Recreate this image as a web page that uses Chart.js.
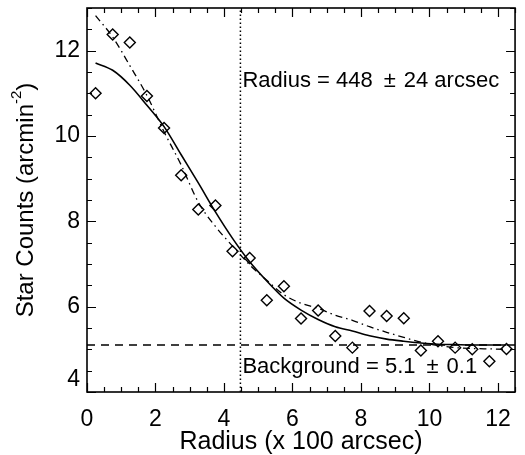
<!DOCTYPE html>
<html>
<head>
<meta charset="utf-8">
<title>Radial star count profile</title>
<script src="https://cdn.jsdelivr.net/npm/chart.js@4.4.1/dist/chart.umd.min.js"></script>
<style>
  html, body { margin: 0; padding: 0; background: #fff; }
  canvas { display: block; }
</style>
</head>
<body>
<canvas id="profile" width="525" height="455"></canvas>
<script>
// radial bins (x 100 arcsec) and measured surface density of stars
const radius = [0.25, 0.75, 1.25, 1.75, 2.25, 2.75, 3.25, 3.75, 4.25, 4.75, 5.25, 5.75, 6.25,
                6.75, 7.25, 7.75, 8.25, 8.75, 9.25, 9.75, 10.25, 10.75, 11.25, 11.75, 12.25];
const counts = [11.0, 12.38, 12.19, 10.94, 10.19, 9.08, 8.28, 8.37, 7.30, 7.14, 6.15, 6.48, 5.72,
                5.91, 5.31, 5.04, 5.90, 5.78, 5.73, 4.97, 5.19, 5.04, 5.00, 4.72, 5.01];

// fitted profiles evaluated at the same radii
const fitSolid = [11.71, 11.54, 11.19, 10.72, 10.22, 9.56, 8.90, 8.22, 7.60, 7.05, 6.60, 6.20, 5.92,
                  5.70, 5.53, 5.43, 5.32, 5.24, 5.19, 5.15, 5.12, 5.11, 5.10, 5.10, 5.10];
const fitDashDot = [12.82, 12.32, 11.65, 10.95, 10.10, 9.32, 8.45, 7.88, 7.42, 6.98, 6.62, 6.28, 6.08,
                    5.96, 5.80, 5.68, 5.53, 5.40, 5.28, 5.17, 5.09, 5.04, 5.02, 5.01, 5.00];

// fitted core radius and sky background
const coreRadius = 4.48;
const background = 5.1;

const xRange = [0, 12.5];
const yRange = [4, 13];
const xTickLabels = [0, 2, 4, 6, 8, 10, 12];
const yTickLabels = [4, 6, 8, 10, 12];
const minorStep = 0.5;

const radiusText = ['Radius = 448', '\u00b1', '24 arcsec'];
const backgroundText = ['Background = 5.1', '\u00b1', '0.1'];

const FONT = '"Liberation Sans", Arial, Helvetica, sans-serif';

function pairs(xs, ys) {
  return xs.map((x, i) => ({ x: x, y: ys[i] }));
}

// box round the plot with inward ticks on all four sides, y labels and titles
const framePlugin = {
  id: 'frame',
  afterDraw(chart) {
    const ctx = chart.ctx;
    const a = chart.chartArea;
    const xs = chart.scales.x;
    const ys = chart.scales.y;

    ctx.save();
    ctx.strokeStyle = '#000';
    ctx.lineWidth = 1.6;
    ctx.strokeRect(a.left, a.top, a.right - a.left, a.bottom - a.top);

    ctx.lineWidth = 1.2;
    ctx.beginPath();
    for (let v = xRange[0]; v <= xRange[1] + 1e-9; v += minorStep) {
      const px = Math.round(xs.getPixelForValue(v)) + 0.5;
      const len = xTickLabels.includes(v) ? 9 : 5;
      ctx.moveTo(px, a.bottom); ctx.lineTo(px, a.bottom - len);
      ctx.moveTo(px, a.top); ctx.lineTo(px, a.top + len);
    }
    for (let v = yRange[0]; v <= yRange[1] + 1e-9; v += minorStep) {
      const py = Math.round(ys.getPixelForValue(v)) + 0.5;
      const len = yTickLabels.includes(v) ? 9 : 5;
      ctx.moveTo(a.left, py); ctx.lineTo(a.left + len, py);
      ctx.moveTo(a.right, py); ctx.lineTo(a.right - len, py);
    }
    ctx.stroke();

    ctx.fillStyle = '#000';
    ctx.font = '23px ' + FONT;
    ctx.textAlign = 'right';
    ctx.textBaseline = 'middle';
    yTickLabels.forEach(v => {
      const py = Math.min(ys.getPixelForValue(v), a.bottom - 12);
      ctx.fillText(String(v), a.left - 7, py);
    });

    // x title
    ctx.font = '25px ' + FONT;
    ctx.textAlign = 'center';
    ctx.fillText('Radius (x 100 arcsec)', (a.left + a.right) / 2, 442);

    // y title with superscript exponent
    const main = 'Star Counts (arcmin';
    const sup = '-2';
    const tail = ')';
    ctx.font = '24px ' + FONT;
    const wMain = ctx.measureText(main).width;
    const wTail = ctx.measureText(tail).width;
    ctx.font = '15px ' + FONT;
    const wSup = ctx.measureText(sup).width;
    const total = wMain + wSup + wTail;
    ctx.translate(26, (a.top + a.bottom) / 2);
    ctx.rotate(-Math.PI / 2);
    ctx.textAlign = 'left';
    let cx = -total / 2;
    ctx.font = '24px ' + FONT;
    ctx.fillText(main, cx, 0);
    cx += wMain;
    ctx.font = '15px ' + FONT;
    ctx.fillText(sup, cx, -9);
    cx += wSup;
    ctx.font = '24px ' + FONT;
    ctx.fillText(tail, cx, 0);
    ctx.restore();

    // fit annotations, placed just right of the core radius line
    ctx.save();
    ctx.fillStyle = '#000';
    ctx.font = '22px ' + FONT;
    ctx.textBaseline = 'middle';
    ctx.textAlign = 'left';
    const left = xs.getPixelForValue(coreRadius) + 2;
    const drawParts = (parts, y) => {
      let px = left;
      ctx.fillText(parts[0], px, y);
      px += ctx.measureText(parts[0]).width + 11;
      ctx.fillText(parts[1], px, y);
      px += ctx.measureText(parts[1]).width + 8;
      ctx.fillText(parts[2], px, y);
    };
    drawParts(radiusText, 81);
    drawParts(backgroundText, 367);
    ctx.restore();
  }
};

const ctx = document.getElementById('profile');

new Chart(ctx, {
  type: 'scatter',
  data: {
    datasets: [
      {
        label: 'counts',
        data: pairs(radius, counts),
        showLine: false,
        pointStyle: 'rectRot',
        pointRadius: 5.5,
        pointBorderWidth: 1.4,
        pointBorderColor: '#000',
        pointBackgroundColor: 'rgba(0,0,0,0)',
        order: 0
      },
      {
        label: 'fit',
        data: pairs(radius, fitSolid),
        showLine: true,
        borderColor: '#000',
        borderWidth: 1.6,
        pointRadius: 0,
        cubicInterpolationMode: 'monotone',
        order: 1
      },
      {
        label: 'fit 2',
        data: pairs(radius, fitDashDot),
        showLine: true,
        borderColor: '#000',
        borderWidth: 1.3,
        borderDash: [7, 4, 1.5, 4],
        pointRadius: 0,
        cubicInterpolationMode: 'monotone',
        order: 2
      },
      {
        label: 'background',
        data: pairs(xRange, [background, background]),
        showLine: true,
        borderColor: '#000',
        borderWidth: 1.4,
        borderDash: [8, 6],
        pointRadius: 0,
        order: 3
      },
      {
        label: 'core radius',
        data: pairs([coreRadius, coreRadius], yRange),
        showLine: true,
        borderColor: '#000',
        borderWidth: 1.5,
        borderDash: [1.5, 2.5],
        pointRadius: 0,
        order: 4
      }
    ]
  },
  options: {
    responsive: false,
    animation: false,
    layout: { padding: { top: 8, right: 1, left: 0, bottom: 0 } },
    plugins: {
      legend: { display: false },
      tooltip: { enabled: false }
    },
    scales: {
      x: {
        type: 'linear',
        min: xRange[0],
        max: xRange[1],
        grid: { display: false, drawTicks: false },
        border: { display: false },
        afterBuildTicks: s => { s.ticks = xTickLabels.map(v => ({ value: v })); },
        afterFit: s => { s.height = 63; },
        ticks: {
          color: '#000',
          padding: 14,
          maxRotation: 0,
          font: { family: FONT, size: 23 }
        }
      },
      y: {
        type: 'linear',
        min: yRange[0],
        max: yRange[1],
        grid: { display: false, drawTicks: false },
        border: { display: false },
        afterBuildTicks: s => { s.ticks = yTickLabels.map(v => ({ value: v })); },
        afterFit: s => { s.width = 87; },
        ticks: { display: false }
      }
    }
  },
  plugins: [framePlugin]
});
</script>
</body>
</html>
